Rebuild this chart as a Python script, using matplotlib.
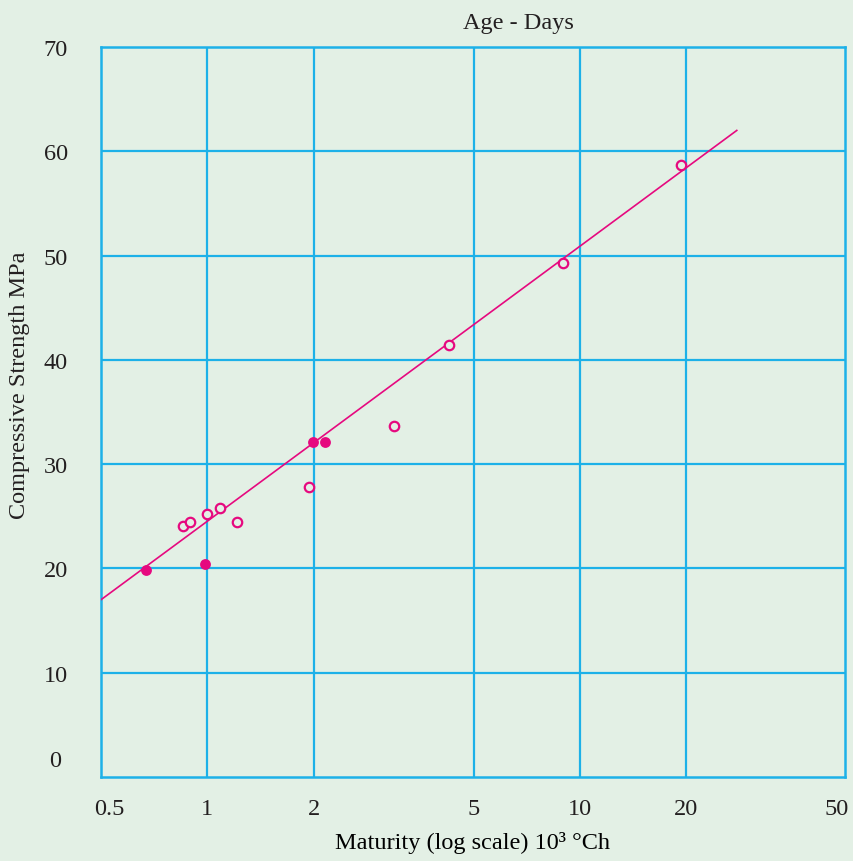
import numpy as np
import matplotlib
matplotlib.use('Agg')
import matplotlib.pyplot as plt
from matplotlib.transforms import ScaledTranslation

plt.rcParams.update({
    'font.family': ['Liberation Serif', 'DejaVu Serif'],
    'font.size': 17.5,
    'text.color': '#231f20',
    'xtick.color': '#231f20',
    'ytick.color': '#231f20',
})

BG = '#e3f0e5'
GRID = '#1db1e8'
PINK = '#e6097f'

# maturity (10^3 °Ch) vs compressive strength (MPa)
open_x = [0.853, 0.896, 1.0, 1.09, 1.217, 1.94, 3.17, 4.33, 8.93, 19.4]
open_y = [24.1, 24.5, 25.2, 25.8, 24.5, 27.8, 33.65, 41.45, 49.25, 58.7]
filled_x = [0.671, 0.987, 1.99, 2.13]
filled_y = [19.85, 20.4, 32.1, 32.1]
fit_x = [0.5, 26.8]
fit_y = [17.0, 62.0]

xticks = [0.5, 1, 2, 5, 10, 20, 50]
xtick_labels = ['0.5', '1', '2', '5', '10', '20', '50']
yticks = [10, 20, 30, 40, 50, 60, 70]

# the printed log paper is not spaced evenly, so map each decade piece on its own
knot_log = np.log10(xticks)
knot_pos = np.array([101, 207, 314, 474, 580, 686, 845], dtype=float)


def fwd(x):
    lx = np.log10(np.clip(np.asarray(x, dtype=float), 1e-9, None))
    return np.interp(lx, knot_log, knot_pos)


def inv(p):
    return 10 ** np.interp(np.asarray(p, dtype=float), knot_pos, knot_log)


fig = plt.figure(figsize=(8.54, 8.62), dpi=100, facecolor=BG)
ax = fig.add_axes([101 / 854, 1 - 778 / 862, 744 / 854, 730 / 862])
ax.set_facecolor(BG)
ax.set_xscale('function', functions=(fwd, inv))
ax.set_xlim(0.5, 50)
ax.set_ylim(0, 70)

for v in xticks[1:-1]:
    ax.axvline(v, color=GRID, lw=1.6, zorder=1)
for v in yticks[:-1]:
    ax.axhline(v, color=GRID, lw=1.6, zorder=1)
for s in ax.spines.values():
    s.set_color(GRID)
    s.set_linewidth(1.8)

ax.plot(fit_x, fit_y, color=PINK, lw=1.2, zorder=3)
ax.plot(open_x, open_y, 'o', ms=6.8, mfc=BG, mec=PINK, mew=1.6, zorder=4)
ax.plot(filled_x, filled_y, 'o', ms=7.8, mfc=PINK, mec=PINK, mew=0, zorder=4)

ax.set_xticks(xticks)
ax.set_xticklabels(xtick_labels)
ax.minorticks_off()
ax.set_yticks(yticks)
ax.tick_params(axis='both', length=0)
ax.tick_params(axis='x', pad=15)
ax.tick_params(axis='y', pad=24)

# edge labels sit a little inside the frame
xlabels = ax.get_xticklabels()
for lbl, dx in ((xlabels[0], 8), (xlabels[-1], -8)):
    lbl.set_transform(lbl.get_transform() + ScaledTranslation(dx / 100, 0, fig.dpi_scale_trans))

ax.text(-40 / 744, 16 / 730, '0', transform=ax.transAxes, ha='right', va='center')

ax.set_xlabel('Maturity (log scale) 10³ °Ch', labelpad=9)
fig.text(20 / 854, 1 - 385 / 862, 'Compressive Strength MPa', rotation=90,
         ha='center', va='center')
fig.text(518 / 854, 1 - 24 / 862, 'Age - Days', ha='center', va='center')

fig.savefig('out.png', dpi=100, facecolor=BG)
